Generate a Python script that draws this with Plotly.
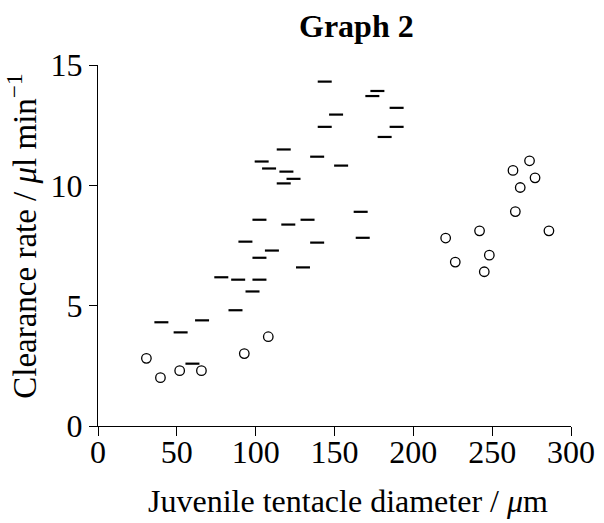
import plotly.graph_objects as go

# Dash-marker series
dash_x = [40.2, 52.4, 59.9, 66.0, 87.2, 98.0, 78.2, 88.9, 102.4, 93.5, 102.4, 110.3,
          130.0, 139.0, 102.4, 120.7, 132.9, 166.6, 167.9, 117.8, 124.0, 119.5, 108.5,
          103.8, 117.8, 139.0, 154.2, 143.8, 151.0, 143.8, 174.0, 177.2, 189.4, 189.4, 181.8]
dash_y = [4.31, 3.89, 2.59, 4.39, 4.81, 5.59, 6.18, 6.08, 6.08, 7.66, 6.99, 7.29,
          6.59, 7.62, 8.57, 8.37, 8.57, 8.90, 7.82, 10.08, 10.27, 10.57, 10.70,
          10.99, 11.49, 11.19, 10.82, 12.43, 12.94, 14.31, 13.71, 13.92, 13.22, 12.43, 12.01]

# Open-circle series
circ_x = [30.7, 39.6, 51.8, 65.6, 92.8, 108.0, 220.5, 226.6, 242.0, 245.0, 248.2,
          264.7, 263.2, 267.8, 273.7, 277.2, 286.0]
circ_y = [2.81, 2.01, 2.30, 2.30, 3.01, 3.71, 7.81, 6.81, 8.11, 6.41, 7.10,
          8.91, 10.62, 9.91, 11.02, 10.31, 8.11]

x_ticks = [0, 50, 100, 150, 200, 250, 300]
y_ticks = [0, 5, 10, 15]

title_text = "<b>Graph 2</b>"
x_title = "Juvenile tentacle diameter / <i>μ</i>m"
y_title = "Clearance rate / <i>μ</i>l min<sup>−1</sup>"

FONT = "Liberation Serif, Times New Roman, serif"
W, H = 604, 523
L, R, T, B = 98, 33, 65, 96.5

fig = go.Figure()
fig.add_trace(go.Scatter(
    x=dash_x, y=dash_y, mode="markers",
    marker=dict(symbol="line-ew", size=10, color="black",
                line=dict(color="black", width=2.2)),
    showlegend=False, cliponaxis=False, hoverinfo="skip"))
fig.add_trace(go.Scatter(
    x=circ_x, y=circ_y, mode="markers",
    marker=dict(symbol="circle-open", size=9.5, color="black",
                line=dict(color="black", width=1.3)),
    showlegend=False, cliponaxis=False, hoverinfo="skip"))

pw, ph = W - L - R, H - T - B

def px_to_paper_x(px):
    return (px - L) / pw

def px_to_paper_y(py):
    return (H - B - py) / ph

fig.update_layout(
    width=W, height=H,
    margin=dict(l=L, r=R, t=T, b=B, autoexpand=False),
    paper_bgcolor="white", plot_bgcolor="white",
    font=dict(family=FONT, size=32, color="black"),
    xaxis=dict(range=[0, 300], tickvals=x_ticks, ticktext=[str(v) for v in x_ticks],
               showline=True, linecolor="black", linewidth=1,
               ticks="outside", ticklen=9, tickcolor="black", tickwidth=1,
               showgrid=False, zeroline=False, automargin=False,
               ticklabelstandoff=-11,
               tickfont=dict(family=FONT, size=32)),
    yaxis=dict(range=[0, 15], tickvals=y_ticks, ticktext=[str(v) for v in y_ticks],
               showline=True, linecolor="black", linewidth=1,
               ticks="outside", ticklen=8, tickcolor="black", tickwidth=1,
               showgrid=False, zeroline=False, automargin=False,
               tickfont=dict(family=FONT, size=32)),
    annotations=[
        dict(text=title_text, xref="paper", yref="paper",
             x=px_to_paper_x(356), y=px_to_paper_y(26),
             xanchor="center", yanchor="middle", showarrow=False,
             font=dict(family=FONT, size=32, color="black")),
        dict(text=x_title, xref="paper", yref="paper",
             x=px_to_paper_x(348), y=px_to_paper_y(502),
             xanchor="center", yanchor="middle", showarrow=False,
             font=dict(family=FONT, size=32, color="black")),
        dict(text=y_title, xref="paper", yref="paper",
             x=px_to_paper_x(22), y=px_to_paper_y(237),
             xanchor="center", yanchor="middle", showarrow=False, textangle=-90,
             font=dict(family=FONT, size=33, color="black")),
    ],
)

fig.write_html("out.html", config={"displayModeBar": False, "staticPlot": True},
               post_script="document.body.style.margin='0';")
